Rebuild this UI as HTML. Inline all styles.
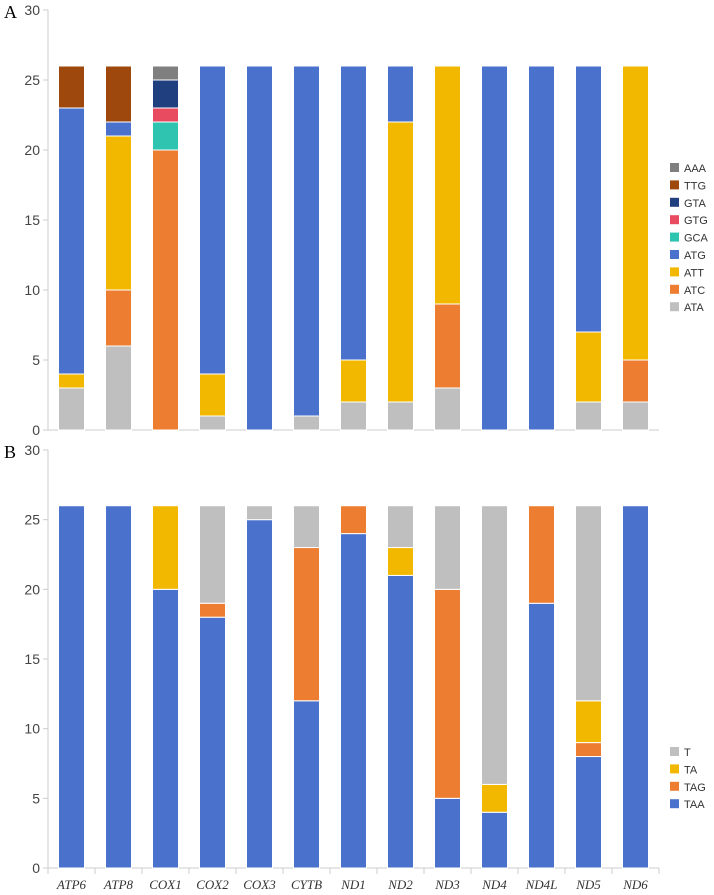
<!DOCTYPE html>
<html><head><meta charset="utf-8"><style>
body{margin:0;background:#fff}
svg{display:block}
.tk{font-family:"Liberation Sans",sans-serif;font-size:14px;fill:#444}
.lg{font-family:"Liberation Sans",sans-serif;font-size:11px;fill:#333}
.xl{font-family:"Liberation Serif",serif;font-style:italic;font-size:13px;fill:#333}
.pl{font-family:"Liberation Serif",serif;font-size:18px;fill:#000}
</style></head><body>
<svg id="chart" width="714" height="895" xmlns="http://www.w3.org/2000/svg"></svg>
<script>
const genes=["ATP6","ATP8","COX1","COX2","COX3","CYTB","ND1","ND2","ND3","ND4","ND4L","ND5","ND6"];
const startCodons=["ATA","ATC","ATT","ATG","GCA","GTG","GTA","TTG","AAA"];
const startColors=["#bfbfbf","#ed7d31","#f2b800","#4a72cc","#2ec4b0","#e84a5f","#203f7f","#9e480e","#7f7f7f"];
const ATA=[3,6,0,1,0,1,2,2,3,0,0,2,2];
const ATC=[0,4,20,0,0,0,0,0,6,0,0,0,3];
const ATT=[1,11,0,3,0,0,3,20,17,0,0,5,21];
const ATG=[19,1,0,22,26,25,21,4,0,26,26,19,0];
const GCA=[0,0,2,0,0,0,0,0,0,0,0,0,0];
const GTG=[0,0,1,0,0,0,0,0,0,0,0,0,0];
const GTA=[0,0,2,0,0,0,0,0,0,0,0,0,0];
const TTG=[3,4,0,0,0,0,0,0,0,0,0,0,0];
const AAA=[0,0,1,0,0,0,0,0,0,0,0,0,0];
const stopCodons=["TAA","TAG","TA","T"];
const stopColors=["#4a72cc","#ed7d31","#f2b800","#bfbfbf"];
const TAA=[26,26,20,18,25,12,24,21,5,4,19,8,26];
const TAG=[0,0,0,1,0,11,2,0,15,0,7,1,0];
const TA=[0,0,6,0,0,0,0,2,0,2,0,3,0];
const T=[0,0,0,7,1,3,0,3,6,20,0,14,0];
const yTicks=[0,5,10,15,20,25,30];

const svg=document.getElementById('chart');
const NS="http://www.w3.org/2000/svg";
function mk(tag,attrs,parent){const e=document.createElementNS(NS,tag);for(const k in attrs)e.setAttribute(k,attrs[k]);(parent||svg).appendChild(e);return e;}
const x0=48,band=47,barW=26;
function xBand(i){return x0+band*i+(band-barW)/2;}

function panel(name,top,bottom,series,colors,labels,legendY,letter,xticks){
  const g=mk('g',{});
  
  
  const y=v=>bottom-(bottom-top)*v/30;
  const pl=mk('text',{x:4,y:top+8,class:'pl'},g);pl.textContent=letter;
  
  
  const ax=mk('line',{x1:x0,y1:top,x2:x0,y2:bottom,stroke:'#ccc'},g);
  
  
  yTicks.forEach(t=>{
    mk('line',{x1:x0-5,x2:x0,y1:y(t),y2:y(t),stroke:'#ccc'},g);
    const tx=mk('text',{x:x0-8,y:y(t)+5,'text-anchor':'end',class:'tk'},g);tx.textContent=t;
    
    
  });
  const xa=mk('line',{x1:x0,y1:bottom,x2:x0+band*genes.length,y2:bottom,stroke:'#ccc'},g);
  
  
  genes.forEach((gn,i)=>{
    if(xticks){
      mk('line',{x1:x0+band*i,x2:x0+band*i,y1:bottom,y2:bottom+6,stroke:'#ccc'},g);
      mk('line',{x1:x0+band*(i+1),x2:x0+band*(i+1),y1:bottom,y2:bottom+6,stroke:'#ccc'},g);
    }
    let acc=0;
    series.forEach((s,k)=>{
      const v=s[i];if(!v)return;
      const r=mk('rect',{x:xBand(i),y:y(acc+v),width:barW,height:y(acc)-y(acc+v),fill:colors[k],stroke:'#fff','stroke-width':1},g);
      
      
      acc+=v;
    });
  });
  for(let k=series.length-1,j=0;k>=0;k--,j++){
    const ly=legendY+j*17.4;
    const sq=mk('rect',{x:670,y:ly-5,width:9,height:9,fill:colors[k]},g);
    
    
    const lt=mk('text',{x:684,y:ly+4,class:'lg'},g);lt.textContent=labels[k];
    
    
  }
}
panel('panel-a-start-codons',10,430,[ATA,ATC,ATT,ATG,GCA,GTG,GTA,TTG,AAA],startColors,startCodons,168,'A',false);
panel('panel-b-stop-codons',450,868,[TAA,TAG,TA,T],stopColors,stopCodons,752,'B',true);
genes.forEach((gn,i)=>{
  const t=mk('text',{x:xBand(i)+barW/2,y:889,'text-anchor':'middle',class:'xl'});t.textContent=gn;
  
  
});
</script>
</body></html>
